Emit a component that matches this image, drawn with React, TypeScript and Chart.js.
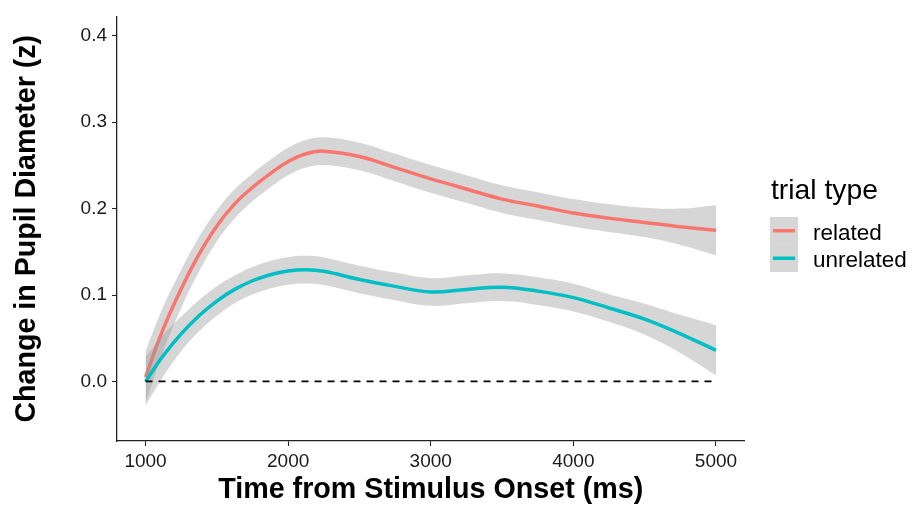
import React, { useEffect, useRef } from "react";
import { Chart, registerables } from "chart.js";

Chart.register(...registerables);

// ---- data ----
const timeMs = [1000, 1125, 1250, 1375, 1500, 1625, 1750, 1875, 2000, 2125, 2250, 2500, 2750, 3000, 3250, 3500, 3750, 4000, 4250, 4500, 4750, 5000];
const relatedMean = [0.005, 0.061, 0.107, 0.147, 0.180, 0.2055, 0.2245, 0.2405, 0.2545, 0.2635, 0.2665, 0.2603, 0.2475, 0.2345, 0.2227, 0.211, 0.203, 0.195, 0.189, 0.184, 0.179, 0.175];
const relatedHalfCI = [0.030, 0.026, 0.022, 0.020, 0.018, 0.017, 0.016, 0.016, 0.016, 0.016, 0.016, 0.016, 0.016, 0.016, 0.016, 0.016, 0.016, 0.016, 0.016, 0.017, 0.021, 0.029];
const unrelatedMean = [0.0, 0.030, 0.055, 0.076, 0.093, 0.1065, 0.1165, 0.1235, 0.1278, 0.1293, 0.1275, 0.118, 0.110, 0.1035, 0.1065, 0.109, 0.1045, 0.097, 0.085, 0.072, 0.055, 0.036];
const unrelatedHalfCI = [0.028, 0.024, 0.020, 0.018, 0.017, 0.016, 0.016, 0.016, 0.016, 0.016, 0.016, 0.016, 0.016, 0.016, 0.016, 0.016, 0.016, 0.016, 0.016, 0.018, 0.022, 0.029];
const xTicks = [1000, 2000, 3000, 4000, 5000];
const yTicks = [0, 0.1, 0.2, 0.3, 0.4];
const seriesNames = ["related", "unrelated"];
const seriesColors = ["#F8766D", "#00BFC4"];
const legendTitle = "trial type";
const xTitle = "Time from Stimulus Onset (ms)";
const yTitle = "Change in Pupil Diameter (z)";
const refLineY = 0;

const FONT = "'Liberation Sans', Arial, Helvetica, sans-serif";
const RIBBON = "rgba(153,153,153,0.4)";

function pts(ys: number[]) {
  return timeMs.map((x, i) => ({ x, y: ys[i] }));
}

const legendPlugin = {
  id: "ggLegend",
  afterDraw(chart: any) {
    const ctx = chart.ctx as CanvasRenderingContext2D;
    ctx.save();
    ctx.fillStyle = "#000";
    ctx.font = `28.3px ${FONT}`;
    ctx.textAlign = "left";
    ctx.textBaseline = "alphabetic";
    ctx.fillText(legendTitle, 771, 199);
    const keyX = 770, keyW = 28, keyH = 27.5, keyTop = 217;
    seriesNames.forEach((name, i) => {
      const top = keyTop + i * keyH;
      ctx.fillStyle = RIBBON;
      ctx.fillRect(keyX, top, keyW, keyH);
      ctx.strokeStyle = seriesColors[i];
      ctx.lineWidth = 3.5;
      ctx.beginPath();
      const cy = top + keyH / 2;
      ctx.moveTo(keyX + 3, cy);
      ctx.lineTo(keyX + keyW - 3, cy);
      ctx.stroke();
      ctx.fillStyle = "#000";
      ctx.font = `22.5px ${FONT}`;
      ctx.fillText(name, 813, i === 0 ? 240 : 267);
    });
    ctx.restore();
  },
};

export default function App() {
  const ref = useRef<HTMLCanvasElement | null>(null);
  useEffect(() => {
    if (!ref.current) return;
    const relUpper = relatedMean.map((v, i) => v + relatedHalfCI[i]);
    const relLower = relatedMean.map((v, i) => v - relatedHalfCI[i]);
    const unUpper = unrelatedMean.map((v, i) => v + unrelatedHalfCI[i]);
    const unLower = unrelatedMean.map((v, i) => v - unrelatedHalfCI[i]);
    const common = { pointRadius: 0, tension: 0.4 };
    const chart = new Chart(ref.current, {
      type: "line",
      data: {
        datasets: [
          { ...common, label: "related band upper", data: pts(relUpper), borderWidth: 0, borderColor: "rgba(0,0,0,0)", backgroundColor: RIBBON, fill: "+1", order: 6 },
          { ...common, label: "related band lower", data: pts(relLower), borderWidth: 0, borderColor: "rgba(0,0,0,0)", fill: false, order: 6 },
          { ...common, label: seriesNames[0], data: pts(relatedMean), borderColor: seriesColors[0], borderWidth: 3.5, fill: false, order: 5 },
          { ...common, label: "unrelated band upper", data: pts(unUpper), borderWidth: 0, borderColor: "rgba(0,0,0,0)", backgroundColor: RIBBON, fill: "+1", order: 4 },
          { ...common, label: "unrelated band lower", data: pts(unLower), borderWidth: 0, borderColor: "rgba(0,0,0,0)", fill: false, order: 4 },
          { ...common, label: seriesNames[1], data: pts(unrelatedMean), borderColor: seriesColors[1], borderWidth: 3.5, fill: false, order: 3 },
          { pointRadius: 0, label: "zero", data: [{ x: timeMs[0], y: refLineY }, { x: timeMs[timeMs.length - 1], y: refLineY }], borderColor: "#000", borderWidth: 1.8, borderDash: [7, 6], fill: false, order: 1 },
        ],
      },
      options: {
        animation: false,
        responsive: true,
        maintainAspectRatio: false,
        layout: { padding: { top: 5, right: 177.5, left: 0, bottom: 0 } },
        plugins: { legend: { display: false }, tooltip: { enabled: false } },
        scales: {
          x: {
            type: "linear",
            min: 800,
            max: 5200,
            afterBuildTicks: (s: any) => { s.ticks = xTicks.map((v) => ({ value: v })); },
            afterFit: (s: any) => { s.height = 75; },
            ticks: { font: { family: FONT, size: 19 }, color: "#1a1a1a", padding: 4, maxRotation: 0, autoSkip: false, callback: (v: any) => String(v) },
            grid: { display: true, drawOnChartArea: false, drawTicks: true, tickLength: 5, tickColor: "#222", tickWidth: 1.1 },
            border: { display: true, color: "#222", width: 1.3 },
            title: { display: true, text: xTitle, color: "#000", font: { family: FONT, size: 28.7, weight: "bold", lineHeight: 1.2 }, padding: { top: 0, bottom: 9 } },
          },
          y: {
            type: "linear",
            min: -0.069,
            max: 0.4225,
            afterBuildTicks: (s: any) => { s.ticks = yTicks.map((v) => ({ value: v })); },
            afterFit: (s: any) => { s.width = 117; },
            ticks: { font: { family: FONT, size: 19 }, color: "#1a1a1a", padding: 5, callback: (v: any) => Number(v).toFixed(1) },
            grid: { display: true, drawOnChartArea: false, drawTicks: true, tickLength: 5, tickColor: "#222", tickWidth: 1.1 },
            border: { display: true, color: "#222", width: 1.3 },
            title: { display: true, text: yTitle, color: "#000", font: { family: FONT, size: 28.6, weight: "bold", lineHeight: 1.2 }, padding: { top: 10, bottom: 0 } },
          },
        },
      },
      plugins: [legendPlugin],
    });
    return () => chart.destroy();
  }, []);
  return (
    <div style={{ position: "fixed", left: 0, top: 0, width: 922, height: 516, background: "#fff" }}>
      <canvas ref={ref} />
    </div>
  );
}
